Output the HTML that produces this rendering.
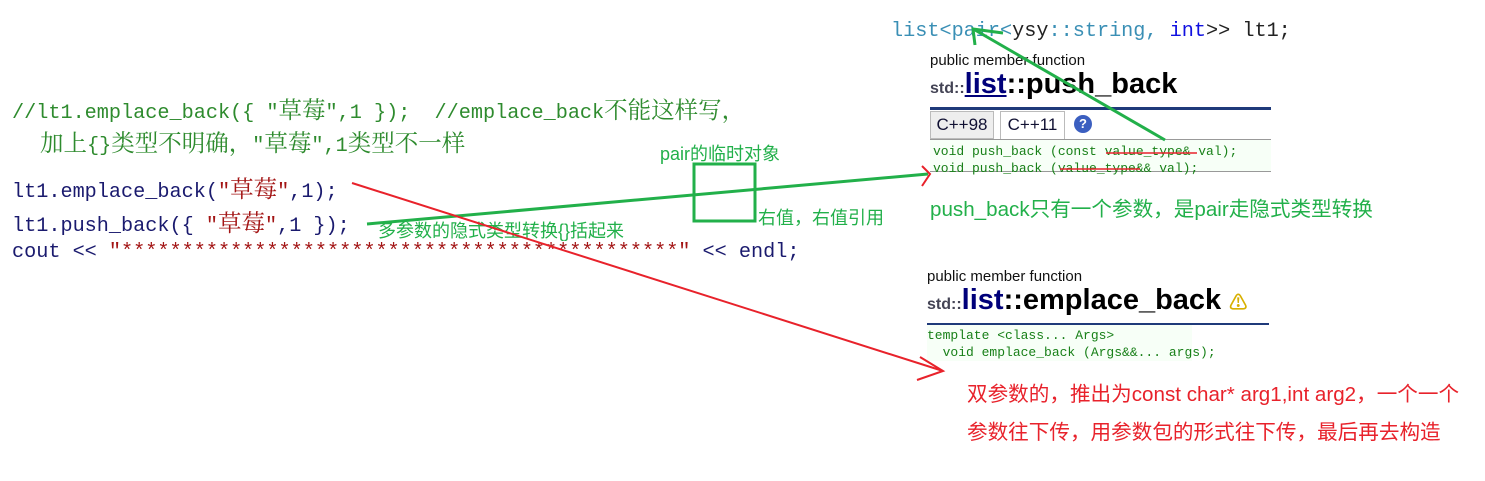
<!DOCTYPE html>
<html><head><meta charset="utf-8"><style>
body{margin:0;width:1485px;height:481px;background:#fff;position:relative;overflow:hidden}
.a{position:absolute;white-space:pre}
.m{font-family:"Liberation Mono","Noto Serif CJK SC",monospace;font-size:20.2px;line-height:24px}
.m b{font-weight:normal;font-family:"Noto Serif CJK SC",serif;font-size:23.5px}
.s{font-family:"Liberation Sans","Noto Sans CJK SC",sans-serif}
.g{color:#2e8b2e}.cg{color:#22b04a}.r{color:#e8222b}
.k{color:#1a1a6e}.st{color:#a31515}.br{color:#555}
.t{font-family:"Liberation Mono",monospace;font-size:13px;color:#188018;line-height:17px}
</style></head><body>
<div class="a m g" style="left:12px;top:96px">//lt1.emplace_back({ "<b>草莓</b>",1 });  //emplace_back<b>不能这样写，</b></div>
<div class="a m g" style="left:40px;top:129px"><b>加上</b>{}<b>类型不明确，</b>"<b>草莓</b>",1<b>类型不一样</b></div>
<div class="a m k" style="left:12px;top:175px">lt1.emplace_back(<span class="st">"<b>草莓</b>"</span>,1);</div>
<div class="a m k" style="left:12px;top:209px">lt1.push_back({ <span class="st">"<b>草莓</b>"</span>,1 });</div>
<div class="a m k" style="left:12px;top:241px">cout &lt;&lt; <span class="st">"**********************************************"</span> &lt;&lt; endl;</div>

<div class="a m" style="left:891px;top:20px;color:#3a8fb5">list&lt;pair&lt;<span style="color:#222">ysy</span>::string, <span style="color:#1010e0">int</span><span style="color:#222">&gt;&gt; lt1;</span></div>

<div class="a s" style="left:930px;top:52px;font-size:15px;color:#111">public member function</div>
<div class="a s" style="left:930px;top:68px;font-size:29px;font-weight:bold;color:#000"><span style="font-size:16px;color:#445">std::</span><span style="color:#00007a;text-decoration:underline">list</span>::push_back</div>
<div class="a" style="left:930px;top:107px;width:341px;height:3px;background:#1f3a7a"></div>
<div class="a s" style="left:930px;top:111px;width:62px;height:26px;border:1px solid #bbb;background:#eee;font-size:17px;color:#113;line-height:26px;text-align:center">C++98</div>
<div class="a s" style="left:1000px;top:111px;width:63px;height:28px;border:1px solid #bbb;border-bottom:none;background:#fff;font-size:17px;color:#113;line-height:26px;text-align:center">C++11</div>
<div class="a" style="left:1074px;top:115px;width:18px;height:18px;border-radius:50%;background:#3b5fc0;color:#fff;font:bold 13px 'Liberation Sans';text-align:center;line-height:18px">?</div>
<div class="a" style="left:930px;top:139px;width:341px;height:31px;border-top:1px solid #999;border-bottom:1px solid #999;background:#f7fff7"></div>
<div class="a t" style="left:933px;top:143px">void push_back (const value_type&amp; val);<br>void push_back (value_type&amp;&amp; val);</div>
<div class="a s cg" style="left:930px;top:192px;font-size:20.6px">push_back只有一个参数，是pair走隐式类型转换</div>

<div class="a s" style="left:927px;top:268px;font-size:15px;color:#111">public member function</div>
<div class="a s" style="left:927px;top:284px;font-size:29px;font-weight:bold;color:#000"><span style="font-size:16px;color:#445">std::</span><span style="color:#00007a">list</span>::emplace_back <span style="color:#d8b000;font-size:18px">⚠</span></div>
<div class="a" style="left:927px;top:323px;width:342px;height:2px;background:#1f3a7a"></div>
<div class="a" style="left:927px;top:325px;width:265px;height:36px;background:#f7fff7"></div>
<div class="a t" style="left:927px;top:327px">template &lt;class... Args&gt;<br>  void emplace_back (Args&amp;&amp;... args);</div>
<div class="a s r" style="left:967px;top:377px;font-size:20.6px">双参数的，推出为const char* arg1,int arg2，一个一个</div>
<div class="a s r" style="left:967px;top:415px;font-size:20.6px">参数往下传，用参数包的形式往下传，最后再去构造</div>

<div class="a s cg" style="left:660px;top:140px;font-size:18px">pair的临时对象</div>
<div class="a s cg" style="left:758px;top:204px;font-size:18px">右值，右值引用</div>
<div class="a s cg" style="left:378px;top:217px;font-size:18px">多参数的隐式类型转换{}括起来</div>

<svg class="a" style="left:0;top:0" width="1485" height="481">
<rect x="694" y="164" width="61" height="57" fill="none" stroke="#22b04a" stroke-width="3"/>
<line x1="1106" y1="153" x2="1197" y2="153" stroke="#e8222b" stroke-width="1.5"/>
<line x1="1060" y1="169" x2="1140" y2="169" stroke="#e8222b" stroke-width="1.5"/>
<g stroke="#22b04a" stroke-width="3" fill="none">
<line x1="367" y1="224" x2="928" y2="174"/>
<line x1="1165" y1="140" x2="975" y2="30"/>
<polyline points="975,45 973,29 1003,33"/>
</g>
<g stroke="#e8222b" stroke-width="2" fill="none">
<polyline points="922,166 930,174 922,186"/>
<line x1="352" y1="183" x2="943" y2="371"/>
<polyline points="920,357 943,371 917,380"/>
</g>
</svg>
</body></html>
